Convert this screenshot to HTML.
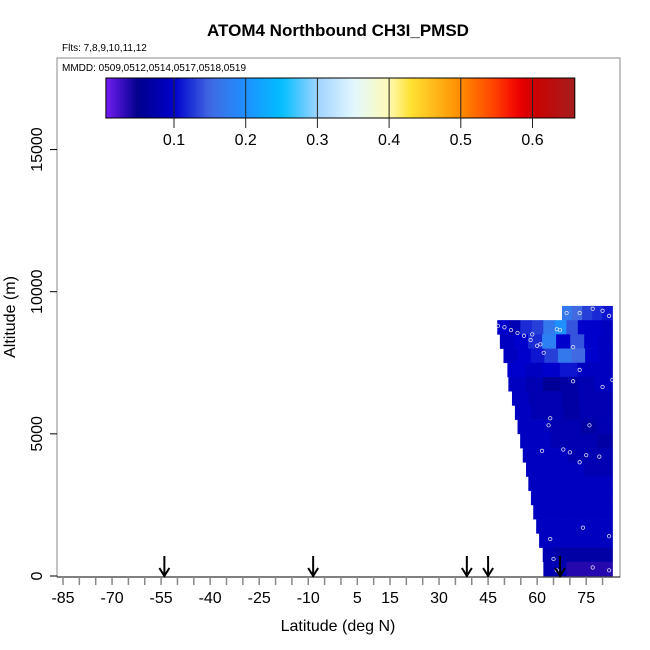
<!DOCTYPE html>
<html><head><meta charset="utf-8"><style>
body{margin:0;background:#fff;}
svg{display:block;font-family:"Liberation Sans",Arial,sans-serif;}
</style></head><body>
<svg id="chart" width="650" height="650" viewBox="0 0 650 650" xmlns="http://www.w3.org/2000/svg">
<text x="338" y="36" text-anchor="middle" font-size="17" font-weight="bold">ATOM4 Northbound CH3I_PMSD</text>
<text x="62" y="51" font-size="10">Flts: 7,8,9,10,11,12</text>
<g id="cells"></g>
<g id="points"></g>
<g id="arrows"></g>
<rect x="57" y="58" width="563" height="519" fill="none" stroke="#888" stroke-width="1"/>
<line x1="57" y1="577" x2="620" y2="577" stroke="#000" stroke-width="1"/>
<text x="62" y="71" font-size="10">MMDD: 0509,0512,0514,0517,0518,0519</text>
<g id="cbar"></g>
<g id="xaxis"></g>
<g id="yaxis"></g>
<text x="338" y="631" text-anchor="middle" font-size="16">Latitude (deg N)</text>
<text transform="translate(15,317) rotate(-90)" text-anchor="middle" font-size="16">Altitude (m)</text>
</svg>
<script>
const bandBottoms=[9000,8500,8000,7500,7000,6500,6000,5500,5000,4500,4000,3500,3000,2500,2000,1500,1000,500,0];
const bandLeftLats=[67.6,47.8,48.6,49.7,50.9,51.2,52.3,53.2,54.0,54.8,55.6,56.6,57.3,58.1,58.8,59.7,60.6,61.7,61.9];
const bandValues=[
[0.17,0.15,0.13,0.12,0.11],
[0.1,0.08,0.12,0.13,0.17,0.2,0.14,0.1,0.1,0.09],
[0.09,0.1,0.12,0.18,0.1,0.14,0.1,0.09],
[0.09,0.1,0.11,0.13,0.17,0.15,0.1,0.09],
[0.1,0.09,0.1,0.11,0.09,0.09],
[0.09,0.08,0.06,0.07,0.08,0.09],
[0.09,0.08,0.08,0.07,0.08,0.08],
[0.09,0.08,0.08,0.07,0.08,0.08],
[0.09,0.09,0.08,0.08,0.07,0.08],
[0.09,0.09,0.08,0.08,0.08,0.07],
[0.09,0.09,0.09,0.08,0.08,0.08],
[0.09,0.09,0.09,0.09,0.08,0.08],
[0.09,0.09,0.09,0.09,0.09,0.09],
[0.09,0.09,0.09,0.09,0.09,0.09],
[0.09,0.09,0.09,0.09,0.09,0.09],
[0.09,0.09,0.09,0.09,0.09,0.09],
[0.09,0.09,0.09,0.09,0.09,0.09],
[0.08,0.07,0.07,0.07,0.07,0.07],
[0.08,0.08,0.035,0.035,0.035,0.035]];
const rightLat=83;
const pointLats=[69,73,77,80,82,48,50,52,54,56,58,60,61,66,67,71,73,58.5,62,71,80,83,64,76,63.5,68,70,61.5,75,79,73,74,82,64,65,82,77,66];
const pointAlts=[9250,9250,9400,9330,9150,8800,8750,8650,8550,8450,8300,8100,8150,8680,8650,8050,7250,8500,7850,6850,6650,6900,5550,5300,5300,4450,4350,4400,4250,4200,4000,1700,1400,1300,600,200,300,200];
const arrowLats=[-54,-8.5,38.5,45,67];
const xTicks=[-85,-70,-55,-40,-25,-10,5,15,30,45,60,75];
const yTicks=[0,5000,10000,15000];
const cbTicks=[0.1,0.2,0.3,0.4,0.5,0.6];

const X=lat=>63+(lat+85)*3.27;
const Y=a=>576-a*0.02843;
const CBX=v=>174+(v-0.1)*717;
const stops=[[0,[127,31,255]],[0.05,[0,0,139]],[0.1,[0,0,205]],[0.15,[65,105,225]],[0.2,[30,144,255]],[0.25,[0,191,255]],[0.3,[160,210,255]],[0.35,[225,248,255]],[0.4,[255,250,180]],[0.43,[255,225,50]],[0.5,[255,140,0]],[0.55,[255,60,0]],[0.58,[240,0,0]],[0.6,[205,0,0]],[0.66,[165,30,30]]];
function col(v){
  if(v<=stops[0][0])return 'rgb('+stops[0][1]+')';
  for(let i=1;i<stops.length;i++){if(v<=stops[i][0]){const[a,c1]=stops[i-1],[b,c2]=stops[i];const t=(v-a)/(b-a);return 'rgb('+c1.map((c,k)=>Math.round(c+(c2[k]-c)*t)).join(',')+')';}}
  return 'rgb('+stops[stops.length-1][1]+')';
}
const NS='http://www.w3.org/2000/svg';
function mk(tag,attrs,parent){const e=document.createElementNS(NS,tag);for(const k in attrs)e.setAttribute(k,attrs[k]);parent.appendChild(e);return e;}
const cells=document.getElementById('cells');
bandBottoms.forEach((b,i)=>{
  const vals=bandValues[i];const l=bandLeftLats[i];const w=(rightLat-l)/vals.length;
  vals.forEach((v,j)=>{
    const x0=X(l+j*w),x1=X(l+(j+1)*w);
    const r=mk('rect',{x:x0,y:Y(b+500),width:x1-x0+0.5,height:Y(b)-Y(b+500)+0.3,fill:col(v)},cells);
    
    
  });
});
const pts=document.getElementById('points');
pointLats.forEach((lat,i)=>{
  const c=mk('circle',{cx:X(lat),cy:Y(pointAlts[i]),r:1.7,fill:'none',stroke:'#dde',"stroke-width":0.8},pts);
  
  
});
const ar=document.getElementById('arrows');
arrowLats.forEach(lat=>{
  const g=mk('g',{},ar);
  
  
  const x=X(lat);
  mk('line',{x1:x,y1:556,x2:x,y2:576,stroke:'#000','stroke-width':2},g);
  mk('polyline',{points:(x-5)+',568 '+x+',576 '+(x+5)+',568',fill:'none',stroke:'#000','stroke-width':2},g);
});
const cb=document.getElementById('cbar');
const defs=mk('defs',{},cb);
const grad=mk('linearGradient',{id:'cg',x1:0,x2:1,y1:0,y2:0},defs);
const v0=0.005,v1=0.659;
for(let k=0;k<=60;k++){const v=v0+(v1-v0)*k/60;mk('stop',{offset:k/60,'stop-color':col(v)},grad);}
mk('rect',{x:CBX(v0),y:78,width:CBX(v1)-CBX(v0),height:40,fill:'url(#cg)',stroke:'#000','stroke-width':1},cb);
cbTicks.forEach(t=>{
  const x=CBX(t);
  const l=mk('line',{x1:x,y1:78,x2:x,y2:128,stroke:'#222','stroke-width':1},cb);
  
  
  const tx=mk('text',{x:x,y:145,'text-anchor':'middle','font-size':16},cb);
  tx.textContent=t.toFixed(1);
  
  
});
const xa=document.getElementById('xaxis');
for(let lat=-85;lat<=80;lat+=5){
  const x=X(lat);
  const t=mk('line',{x1:x,y1:577,x2:x,y2:585,stroke:'#888','stroke-width':1.5},xa);
  
  
}
xTicks.forEach(v=>{
  const t=mk('text',{x:X(v),y:603,'text-anchor':'middle','font-size':16},xa);
  t.textContent=v;
  
  
});
const ya=document.getElementById('yaxis');
yTicks.forEach(v=>{
  const y=Y(v);
  const l=mk('line',{x1:50,y1:y,x2:57,y2:y,stroke:'#000','stroke-width':1},ya);
  
  
  const t=mk('text',{transform:'translate(42,'+y+') rotate(-90)','text-anchor':'middle','font-size':16},ya);
  t.textContent=v;
  
  
});
</script>
</body></html>
